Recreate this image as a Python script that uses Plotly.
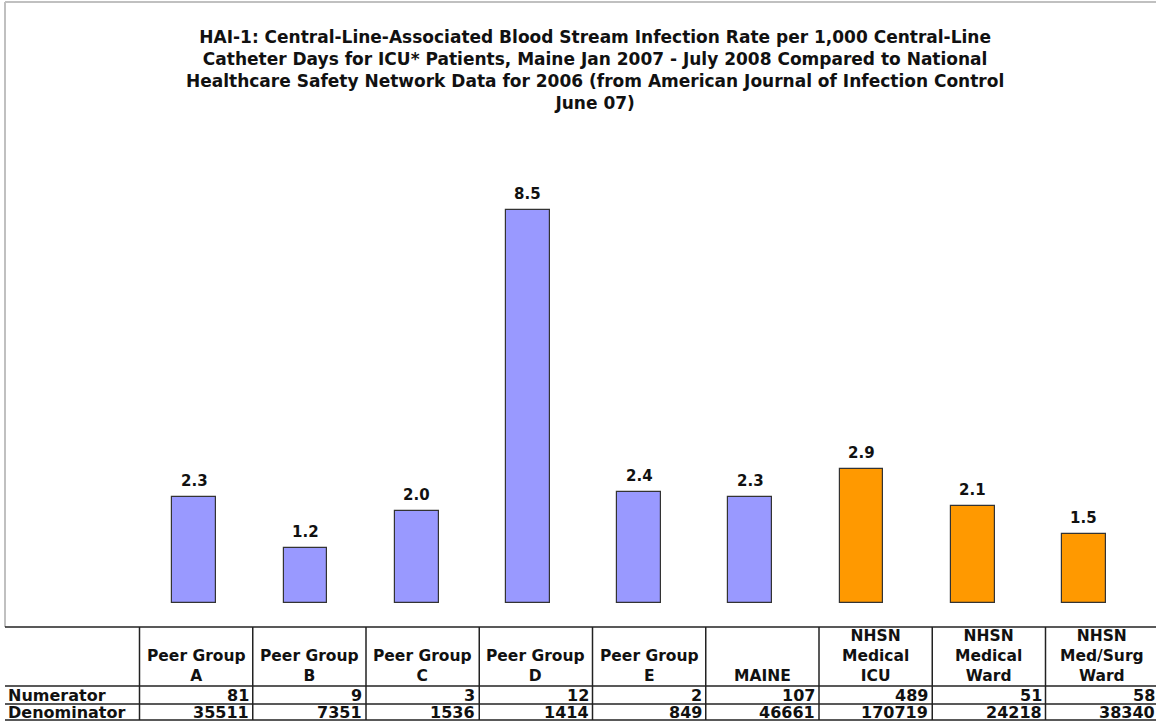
import plotly.graph_objects as go

W, H = 1156, 723

# ---- data ----
categories = ["Peer Group A", "Peer Group B", "Peer Group C", "Peer Group D", "Peer Group E",
              "MAINE", "NHSN Medical ICU", "NHSN Medical Ward", "NHSN Med/Surg Ward"]
header_labels = ["Peer Group<br>A", "Peer Group<br>B", "Peer Group<br>C", "Peer Group<br>D",
                 "Peer Group<br>E", "MAINE", "NHSN<br>Medical<br>ICU", "NHSN<br>Medical<br>Ward",
                 "NHSN<br>Med/Surg<br>Ward"]
rates = [2.3, 1.2, 2.0, 8.5, 2.4, 2.3, 2.9, 2.1, 1.5]
groups = ["Maine", "Maine", "Maine", "Maine", "Maine", "Maine", "NHSN", "NHSN", "NHSN"]
numerators = [81, 9, 3, 12, 2, 107, 489, 51, 58]
denominators = [35511, 7351, 1536, 1414, 849, 46661, 170719, 24218, 38340]
row_labels = ["Numerator", "Denominator"]

title_lines = ["HAI-1: Central-Line-Associated Blood Stream Infection Rate per 1,000 Central-Line",
               "Catheter Days for ICU* Patients, Maine Jan 2007 - July 2008 Compared to National",
               "Healthcare Safety Network Data for 2006 (from American Journal of Infection Control",
               "June 07)"]

group_colors = {"Maine": "#9999FF", "NHSN": "#FF9900"}

# ---- helpers (pixel -> paper) ----
def px(x):
    return x / W

def py(y):
    return (H - y) / H

def bold(s):
    return "<br>".join(f"<b>{p}</b>" for p in s.split("<br>"))

TFONT = "DejaVu Sans"
fig = go.Figure()
fig.add_trace(go.Bar(
    x=categories, y=rates,
    marker=dict(color=[group_colors[g] for g in groups], line=dict(color="#333333", width=1.2)),
    width=0.395, hoverinfo="x+y", showlegend=False,
))

annotations = []
for c, v in zip(categories, rates):
    annotations.append(dict(x=c, y=v, xref="x", yref="y", text=f"<b>{v:.1f}</b>", showarrow=False,
                            yanchor="bottom", yshift=5,
                            font=dict(family=TFONT, size=15, color="#111111")))

annotations.append(dict(x=px(595), y=py(70), xref="paper", yref="paper",
                        text="<br>".join(f"<b>{t}</b>" for t in title_lines),
                        showarrow=False, xanchor="center", yanchor="middle",
                        font=dict(family=TFONT, size=17, color="#111111")))

shapes = []
# chart area border (light gray)
shapes.append(dict(type="line", xref="paper", yref="paper", x0=px(5), x1=px(1160), y0=py(2), y1=py(2),
                   line=dict(color="#c0c0c0", width=2)))
shapes.append(dict(type="line", xref="paper", yref="paper", x0=px(5), x1=px(5), y0=py(2), y1=py(627),
                   line=dict(color="#c0c0c0", width=2)))

# table geometry
col0 = 139.5
cw = 113.25
row_y = [627, 686, 704, 720]
for yy in row_y:
    shapes.append(dict(type="line", xref="paper", yref="paper", x0=px(5), x1=px(1160), y0=py(yy), y1=py(yy),
                       line=dict(color="#222222", width=1.5)))
for k in range(len(categories) + 1):
    xx = col0 + cw * k
    shapes.append(dict(type="line", xref="paper", yref="paper", x0=px(xx), x1=px(xx), y0=py(627), y1=py(720),
                       line=dict(color="#222222", width=1.5)))

head_font = dict(family=TFONT, size=15.5, color="#111111")
cell_font = dict(family=TFONT, size=16, color="#111111")
for k, lab in enumerate(header_labels):
    cx = col0 + cw * (k + 0.5)
    annotations.append(dict(x=px(cx), y=py(686), xref="paper", yref="paper", text=bold(lab), showarrow=False,
                            xanchor="center", yanchor="bottom", align="center", borderpad=0,
                            font=head_font))
for r, (lab, vals) in enumerate(zip(row_labels, [numerators, denominators])):
    yc = (row_y[r + 1] + row_y[r + 2]) / 2
    annotations.append(dict(x=px(7), y=py(yc), xref="paper", yref="paper", text=bold(lab), showarrow=False,
                            xanchor="left", yanchor="middle", borderpad=0, font=cell_font))
    for k, v in enumerate(vals):
        xr = col0 + cw * (k + 1) - 3
        annotations.append(dict(x=px(xr), y=py(yc), xref="paper", yref="paper", text=f"<b>{v}</b>",
                                showarrow=False, xanchor="right", yanchor="middle", borderpad=0,
                                font=cell_font))

# axis ranges so bars sit at measured pixel positions
bar0_px = 194.3
bar_step = 111.2
x0 = -bar0_px / bar_step
x1 = x0 + W / bar_step
base_px = 603.3
unit = 46.3
y0 = -(H - base_px) / unit
y1 = y0 + H / unit

fig.update_layout(
    width=W, height=H, margin=dict(l=0, r=0, t=0, b=0),
    paper_bgcolor="white", plot_bgcolor="white",
    xaxis=dict(range=[x0, x1], visible=False, fixedrange=True),
    yaxis=dict(range=[y0, y1], visible=False, fixedrange=True),
    annotations=annotations, shapes=shapes, bargap=0,
)

fig.write_html("out.html", config={"displayModeBar": False},
               post_script="document.body.style.margin='0';document.body.style.overflow='hidden';")
